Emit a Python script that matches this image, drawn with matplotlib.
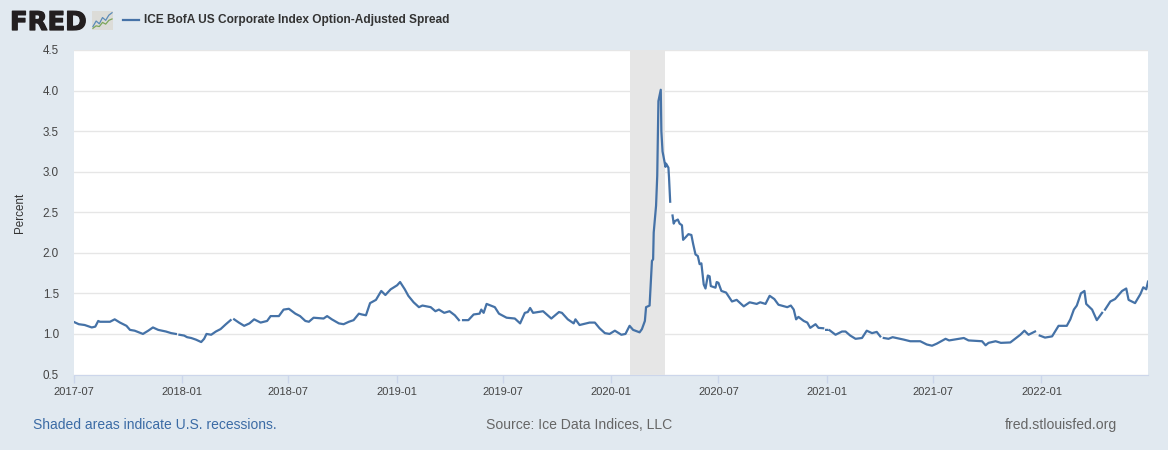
#!/usr/bin/env python
from matplotlib import pyplot as plt
from matplotlib import dates as mdates
from matplotlib import patheffects
import numpy as np

nan = float('nan')

dates_2017 = ['2017-07-01', '2017-07-10', '2017-07-20', '2017-08-01', '2017-08-07', '2017-08-12', '2017-08-15',
              '2017-08-25', '2017-09-01', '2017-09-09', '2017-09-18', '2017-09-29', '2017-10-05', '2017-10-13',
              '2017-10-20', '2017-10-27', '2017-11-05', '2017-11-13', '2017-11-22', '2017-12-05', '2017-12-14',
              '2017-12-22', '2017-12-25', '2017-12-28']
vals_2017 = [1.15, 1.12, 1.11, 1.08, 1.09, 1.16, 1.15,
             1.15, 1.15, 1.18, 1.14, 1.10, 1.05, 1.04,
             1.02, 1.00, 1.04, 1.08, 1.05, 1.03, 1.01,
             1.00, nan, 0.99]

dates_2018 = ['2018-01-05', '2018-01-10', '2018-01-17', '2018-01-25', '2018-02-03', '2018-02-08', '2018-02-12',
              '2018-02-20', '2018-02-28', '2018-03-08', '2018-03-17', '2018-03-25', '2018-03-28', '2018-03-31',
              '2018-04-08', '2018-04-17', '2018-04-26', '2018-05-04', '2018-05-15', '2018-05-26', '2018-06-01',
              '2018-06-15', '2018-06-23', '2018-07-02', '2018-07-13', '2018-07-21', '2018-07-30', '2018-08-05',
              '2018-08-13', '2018-08-30', '2018-09-05', '2018-09-13', '2018-09-25', '2018-10-03', '2018-10-12',
              '2018-10-20', '2018-10-29', '2018-11-03', '2018-11-10', '2018-11-17', '2018-11-27', '2018-12-06',
              '2018-12-13', '2018-12-22']
vals_2018 = [0.98, 0.96, 0.95, 0.93, 0.90, 0.94, 1.00,
             0.99, 1.03, 1.06, 1.12, 1.17, nan, 1.18,
             1.14, 1.10, 1.13, 1.18, 1.14, 1.16, 1.22,
             1.22, 1.30, 1.31, 1.25, 1.22, 1.16, 1.15,
             1.20, 1.19, 1.22, 1.18, 1.13, 1.12, 1.15,
             1.17, 1.25, 1.24, 1.23, 1.38, 1.42, 1.53,
             1.48, 1.55]

dates_2019 = ['2019-01-02', '2019-01-07', '2019-01-15', '2019-01-21', '2019-01-30', '2019-02-08', '2019-02-14',
              '2019-02-28', '2019-03-08', '2019-03-14', '2019-03-23', '2019-04-01', '2019-04-10', '2019-04-17',
              '2019-04-20', '2019-04-24', '2019-05-03', '2019-05-12', '2019-05-22', '2019-05-25', '2019-05-29',
              '2019-06-03', '2019-06-17', '2019-06-24', '2019-07-07', '2019-07-21', '2019-07-30', '2019-08-07',
              '2019-08-12', '2019-08-16', '2019-08-21', '2019-09-07', '2019-09-21', '2019-10-04', '2019-10-09',
              '2019-10-19', '2019-10-29', '2019-11-01', '2019-11-08', '2019-11-25', '2019-12-04', '2019-12-12',
              '2019-12-21', '2019-12-29']
vals_2019 = [1.60, 1.64, 1.55, 1.47, 1.39, 1.33, 1.35,
             1.33, 1.28, 1.30, 1.26, 1.28, 1.23, 1.17,
             nan, 1.17, 1.17, 1.24, 1.25, 1.30, 1.26,
             1.37, 1.33, 1.25, 1.20, 1.19, 1.13, 1.26,
             1.27, 1.32, 1.26, 1.28, 1.19, 1.27, 1.26,
             1.18, 1.13, 1.18, 1.11, 1.14, 1.14, 1.07,
             1.01, 1.00]

dates_2020 = ['2020-01-07', '2020-01-18', '2020-01-25', '2020-02-01', '2020-02-07', '2020-02-18', '2020-02-22',
              '2020-02-27', '2020-02-29', '2020-03-06', '2020-03-10', '2020-03-12', '2020-03-13', '2020-03-17',
              '2020-03-19', '2020-03-21', '2020-03-25', '2020-03-26', '2020-03-28', '2020-04-02', '2020-04-03',
              '2020-04-07', '2020-04-08', '2020-04-10', '2020-04-12', '2020-04-14', '2020-04-16', '2020-04-18',
              '2020-04-23', '2020-04-26', '2020-04-30', '2020-05-02', '2020-05-06', '2020-05-11', '2020-05-16',
              '2020-05-19', '2020-05-23', '2020-05-27', '2020-05-30', '2020-06-02', '2020-06-06', '2020-06-09',
              '2020-06-13', '2020-06-16', '2020-06-18', '2020-06-26', '2020-06-28', '2020-07-01', '2020-07-06',
              '2020-07-14', '2020-07-24', '2020-08-01', '2020-08-13', '2020-08-23', '2020-09-04', '2020-09-10',
              '2020-09-19', '2020-09-26', '2020-10-04', '2020-10-11', '2020-10-26', '2020-11-01', '2020-11-06',
              '2020-11-10', '2020-11-14', '2020-11-23', '2020-11-29', '2020-12-04', '2020-12-13', '2020-12-18',
              '2020-12-26', '2020-12-28', '2020-12-31']
vals_2020 = [1.04, 0.99, 1.00, 1.10, 1.05, 1.02, 1.06,
             1.16, 1.33, 1.35, 1.90, 1.92, 2.25, 2.58,
             2.95, 3.87, 4.01, 3.50, 3.25, 3.06, 3.10,
             3.05, 2.93, 2.63, nan, 2.46, 2.36, 2.39,
             2.41, 2.36, 2.34, 2.16, 2.19, 2.23, 2.22,
             2.11, 1.98, 1.96, 1.86, 1.87, 1.61, 1.56,
             1.72, 1.71, 1.59, 1.57, 1.64, 1.63, 1.53,
             1.51, 1.40, 1.42, 1.34, 1.39, 1.37, 1.39,
             1.37, 1.47, 1.43, 1.36, 1.33, 1.35, 1.30,
             1.18, 1.21, 1.16, 1.14, 1.075, 1.12, 1.075,
             1.07, nan, 1.05]

dates_2021 = ['2021-01-02', '2021-01-04', '2021-01-06', '2021-01-16', '2021-01-27', '2021-02-02', '2021-02-10',
              '2021-02-19', '2021-03-02', '2021-03-10', '2021-03-19', '2021-03-27', '2021-04-02', '2021-04-05',
              '2021-04-08', '2021-04-16', '2021-04-23', '2021-05-12', '2021-05-23', '2021-06-09', '2021-06-20',
              '2021-06-29', '2021-07-07', '2021-07-22', '2021-07-28', '2021-08-22', '2021-08-30', '2021-09-22',
              '2021-09-28', '2021-10-03', '2021-10-15', '2021-10-24', '2021-11-09', '2021-11-17', '2021-11-26',
              '2021-12-03', '2021-12-10', '2021-12-21', '2021-12-25', '2021-12-29']
vals_2021 = [1.05, nan, 1.045, 0.99, 1.03, 1.03, 0.98,
             0.94, 0.95, 1.04, 1.01, 1.025, 0.97, nan,
             0.95, 0.94, 0.96, 0.93, 0.91, 0.91, 0.87,
             0.855, 0.88, 0.94, 0.92, 0.95, 0.92, 0.91,
             0.86, 0.89, 0.91, 0.89, 0.895, 0.94, 0.99,
             1.04, 0.99, 1.03, nan, 0.98]

dates_2022 = ['2022-01-07', '2022-01-19', '2022-01-24', '2022-01-30', '2022-02-13', '2022-02-19', '2022-02-25',
              '2022-03-02', '2022-03-09', '2022-03-15', '2022-03-18', '2022-03-28', '2022-04-05', '2022-04-14',
              '2022-04-17', '2022-04-19', '2022-04-28', '2022-05-06', '2022-05-18', '2022-05-25', '2022-05-29',
              '2022-06-09', '2022-06-18', '2022-06-23', '2022-06-28', '2022-07-01']
vals_2022 = [0.955, 0.97, 1.03, 1.10, 1.10, 1.18, 1.30,
             1.35, 1.50, 1.53, 1.37, 1.30, 1.17, 1.26,
             nan, 1.30, 1.40, 1.43, 1.53, 1.56, 1.42,
             1.38, 1.49, 1.575, 1.55, 1.645]

date_strs = dates_2017 + dates_2018 + dates_2019 + dates_2020 + dates_2021 + dates_2022
values = vals_2017 + vals_2018 + vals_2019 + vals_2020 + vals_2021 + vals_2022

recession = ['2020-02-01', '2020-04-01']
x_ticks = ['2017-07', '2018-01', '2018-07', '2019-01', '2019-07', '2020-01', '2020-07', '2021-01', '2021-07', '2022-01']
y_ticks = [0.5, 1.0, 1.5, 2.0, 2.5, 3.0, 3.5, 4.0, 4.5]

icon_x = [0, 1, 2, 3, 4, 5, 6]
icon_blue = [1.0, 2.6, 1.8, 3.6, 2.8, 4.3, 5.0]
icon_green = [0.5, 1.2, 1.0, 2.2, 1.7, 2.8, 3.2]

BG = '#e1e9f0'
LINE = '#4572a7'
W, H = 1168.0, 450.0

plt.rcParams['font.family'] = ['Liberation Sans', 'DejaVu Sans']

fig = plt.figure(figsize=(11.68, 4.5), dpi=100, facecolor=BG)
ax = fig.add_axes([73.5 / W, 1 - 374.5 / H, (1148 - 73.5) / W, (374.5 - 50) / H])

x = mdates.date2num(np.array(date_strs, dtype='datetime64[D]'))
ax.plot(x, values, color=LINE, lw=1.6, zorder=4, solid_joinstyle='round')

x0, x1 = mdates.date2num(np.array(recession, dtype='datetime64[D]'))
ax.axvspan(x0, x1, color='#e6e6e6', lw=0, zorder=3)

ax.set_xlim(mdates.datestr2num('2017-07-01'), mdates.datestr2num('2022-07-01'))
ax.set_ylim(0.5, 4.5)
ax.set_yticks(y_ticks)
ax.set_yticklabels(['%.1f' % v for v in y_ticks])
ax.set_xticks([mdates.datestr2num(t + '-01') for t in x_ticks])
ax.set_xticklabels(x_ticks)

ax.grid(axis='y', color='#e6e6e6', lw=1, zorder=1)
ax.set_axisbelow(True)
for side in ['top', 'right', 'left']:
    ax.spines[side].set_visible(False)
ax.spines['bottom'].set_color('#ccd6eb')
ax.tick_params(axis='x', length=6, width=1, color='#ccd6eb', labelsize=8.05, labelcolor='#444444', pad=3)
ax.tick_params(axis='y', length=0, labelsize=8.4, labelcolor='#444444', pad=10.5)

fig.text(20 / W, 1 - 213 / H, 'Percent', rotation=90, ha='center', va='center', fontsize=8.4, color='#333333')

# header: logo and legend
logo = fig.text(10 / W, 1 - 30 / H, 'FRED', fontsize=18.6, fontweight='bold', family='DejaVu Sans', color='#231f20',
                ha='left', va='baseline')
logo.set_path_effects([patheffects.withStroke(linewidth=0.9, foreground='#231f20')])

icon = fig.add_axes([92 / W, 1 - 30 / H, 21 / W, 19 / H])
icon.set_facecolor('#dcdcd8')
icon.plot(icon_x, icon_blue, color='#5b8bb8', lw=0.9)
icon.plot(icon_x, icon_green, color='#7ca65a', lw=0.9)
icon.set_xlim(-0.3, 6.3)
icon.set_ylim(0, 5.5)
icon.set_xticks([])
icon.set_yticks([])
for s in icon.spines.values():
    s.set_visible(False)

fig.add_artist(plt.Line2D([123 / W, 139 / W], [1 - 20 / H, 1 - 20 / H], color=LINE, lw=1.6))
fig.text(144 / W, 1 - 20 / H, 'ICE BofA US Corporate Index Option-Adjusted Spread', fontsize=8.58,
         fontweight='bold', color='#333333', ha='left', va='center')

# footer
fig.text(33 / W, 1 - 425 / H, 'Shaded areas indicate U.S. recessions.', fontsize=10.0, color='#3b6ba5',
         ha='left', va='center')
fig.text(486 / W, 1 - 425 / H, 'Source: Ice Data Indices, LLC', fontsize=10.05, color='#666666', ha='left', va='center')
fig.text(1117 / W, 1 - 425 / H, 'fred.stlouisfed.org', fontsize=10.05, color='#666666', ha='right', va='center')

fig.savefig('out.png', dpi=100, facecolor=BG)
